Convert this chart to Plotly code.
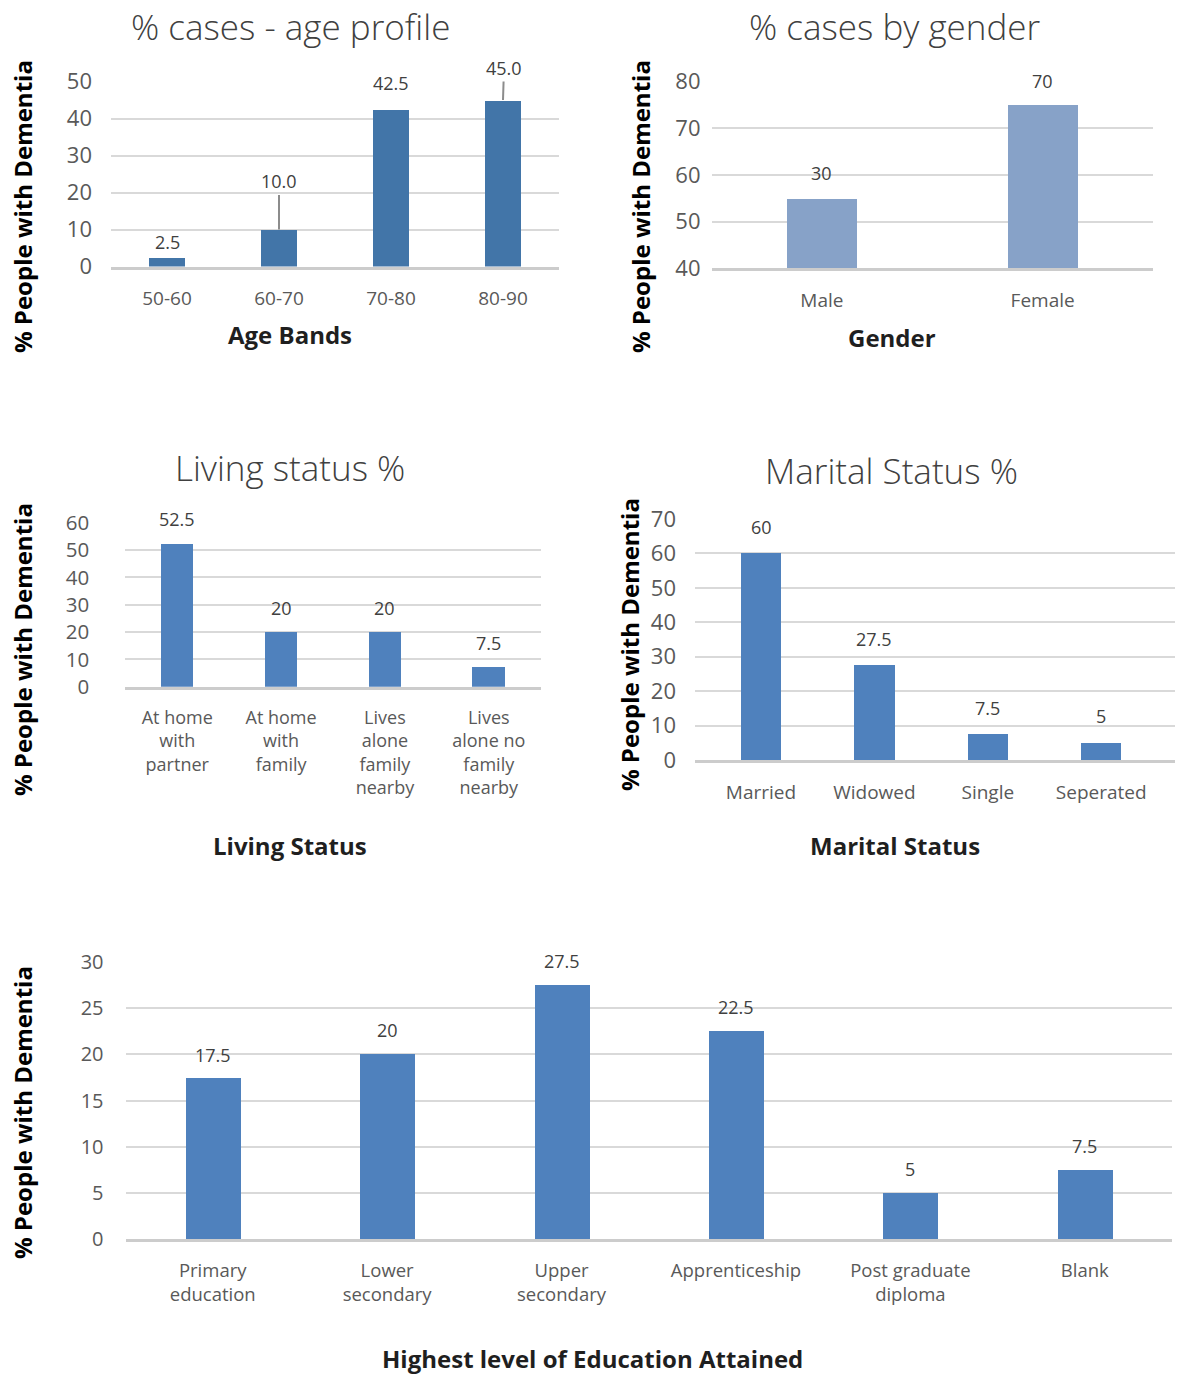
import plotly.graph_objects as go

# ---- data -------------------------------------------------------------
age_bands = ["50-60", "60-70", "70-80", "80-90"]
age_pct = [2.5, 10.0, 42.5, 45.0]

genders = ["Male", "Female"]
gender_pct = [30, 70]
gender_tickvals = [0, 20, 40, 60, 80]
gender_ticktext = ["40", "50", "60", "70", "80"]

living = ["At home<br>with<br>partner", "At home<br>with<br>family",
          "Lives<br>alone<br>family<br>nearby", "Lives<br>alone no<br>family<br>nearby"]
living_pct = [52.5, 20, 20, 7.5]

marital = ["Married", "Widowed", "Single", "Seperated"]
marital_pct = [60, 27.5, 7.5, 5]

education = ["Primary<br>education", "Lower<br>secondary", "Upper<br>secondary",
             "Apprenticeship", "Post graduate<br>diploma", "Blank"]
education_pct = [17.5, 20, 27.5, 22.5, 5, 7.5]

# ---- styling ------------------------------------------------------------
W, H = 1177, 1376
FONT = "'Open Sans', Lato, sans-serif"
TITLE_C = "#404040"
TICK_C = "#595959"
LABEL_C = "#404040"
AXTITLE_C = "#1f1f1f"
GRID_C = "#d9d9d9"
BASE_C = "#cccccc"


def px_x(v):
    return v / W


def px_y(v):
    return 1 - v / H


fig = go.Figure()

panels = [
    dict(cats=age_bands, vals=age_pct, x=(111, 559), y=(81.5, 266.5), yr=(0, 50), dt=10,
         color="#4275A8", width=0.32, ystand=18, yfont=22, xfont=19, fmt="{:.1f}"),
    dict(cats=genders, vals=gender_pct, x=(711.5, 1153), y=(81.7, 268.3), yr=(0, 80), dt=None,
         color="#87A2C8", width=0.317, ystand=10, yfont=22, xfont=19, fmt="{:g}"),
    dict(cats=living, vals=living_pct, x=(125.3, 540.7), y=(522.7, 686.7), yr=(0, 60), dt=10,
         color="#4F81BD", width=0.31, ystand=35, yfont=20.5, xfont=18, fmt="{:g}"),
    dict(cats=marital, vals=marital_pct, x=(695, 1175), y=(519, 760), yr=(0, 70), dt=10,
         color="#4F81BD", width=0.357, ystand=18, yfont=22, xfont=19, fmt="{:g}",
         xr=(-0.582, 3.651)),
    dict(cats=education, vals=education_pct, x=(125.5, 1172), y=(962, 1239.3), yr=(0, 30), dt=5,
         color="#4F81BD", width=0.315, ystand=21, yfont=20, xfont=18.5, fmt="{:g}"),
]

# label offsets (pixels above the bar top) per panel
label_shift = [
    [15, 48, 26, 32],
    [25, 24],
    [24, 24, 24, 23],
    [26, 26, 26, 27],
    [23, 24, 24, 24, 24, 24],
]
# age-profile labels that sit away from their bar get a leader line
leader = [False, True, False, True]

layout = dict(
    template="none",
    width=W, height=H, autosize=False, margin=dict(l=0, r=0, t=0, b=0, pad=0),
    paper_bgcolor="white", plot_bgcolor="white", showlegend=False,
    font=dict(family=FONT, color=TICK_C),
    bargap=0,
)

annotations = []

for i, p in enumerate(panels):
    n = i + 1
    xa = "x" if n == 1 else f"x{n}"
    ya = "y" if n == 1 else f"y{n}"
    xkey = "xaxis" if n == 1 else f"xaxis{n}"
    ykey = "yaxis" if n == 1 else f"yaxis{n}"

    fig.add_trace(go.Bar(
        x=p["cats"], y=p["vals"], xaxis=xa, yaxis=ya,
        marker=dict(color=p["color"], line=dict(width=0)),
        width=p["width"], hoverinfo="skip",
    ))

    ncat = len(p["cats"])
    xr = p.get("xr", (-0.5, ncat - 0.5))
    layout[xkey] = dict(
        domain=[px_x(p["x"][0]), px_x(p["x"][1])],
        anchor=ya, type="category", range=list(xr), automargin=False,
        showgrid=False, zeroline=False, showline=True,
        linecolor=BASE_C, linewidth=2.5, ticks="",
        tickfont=dict(size=p["xfont"], color=TICK_C, family=FONT),
        ticklabelstandoff=13, fixedrange=True,
    )
    yaxis = dict(
        domain=[px_y(p["y"][1]), px_y(p["y"][0])],
        anchor=xa, range=list(p["yr"]), automargin=False,
        showgrid=True, gridcolor=GRID_C, gridwidth=1.5,
        zeroline=False, showline=False, ticks="",
        tickfont=dict(size=p["yfont"], color=TICK_C, family=FONT),
        ticklabelstandoff=p["ystand"], fixedrange=True,
    )
    if p["dt"] is None:
        yaxis.update(tickmode="array", tickvals=gender_tickvals, ticktext=gender_ticktext)
    else:
        yaxis.update(tickmode="linear", tick0=0, dtick=p["dt"])
    layout[ykey] = yaxis

    # value labels
    for j, (c, v) in enumerate(zip(p["cats"], p["vals"])):
        shift = label_shift[i][j]
        ann = dict(
            x=c, y=v, xref=xa, yref=ya, text=p["fmt"].format(v),
            font=dict(size=18, color=LABEL_C, family=FONT),
            xanchor="center", yanchor="middle",
        )
        if i == 0 and leader[j]:
            ann.update(showarrow=True, arrowhead=0, arrowwidth=2, arrowcolor="#8c8c8c",
                       ax=1 if j == 3 else 0, ay=-shift, standoff=0)
        else:
            ann.update(showarrow=False, yshift=shift)
        annotations.append(ann)

# chart titles
titles = [
    ("% cases - age profile", 290, 27),
    ("% cases by gender", 895, 27),
    ("Living status %", 290, 468),
    ("Marital Status %", 891, 470),
]
for t, x, y in titles:
    annotations.append(dict(
        text=t, x=px_x(x), y=px_y(y), xref="paper", yref="paper",
        xanchor="center", yanchor="middle", showarrow=False,
        font=dict(size=35, color=TITLE_C, family=FONT, weight=300),
    ))

# x-axis titles
x_titles = [
    ("Age Bands", 290, 335),
    ("Gender", 892, 337),
    ("Living Status", 290, 845),
    ("Marital Status", 895, 845),
    ("Highest level of Education Attained", 592, 1358),
]
for t, x, y in x_titles:
    annotations.append(dict(
        text=f"<b>{t}</b>", x=px_x(x), y=px_y(y), xref="paper", yref="paper",
        xanchor="center", yanchor="middle", showarrow=False, borderpad=0,
        font=dict(size=24, color=AXTITLE_C, family=FONT),
    ))

# y-axis titles
y_titles = [(22, 207), (640, 207), (22, 650), (629, 645), (22, 1113)]
for x, y in y_titles:
    annotations.append(dict(
        text="<b>% People with Dementia</b>", x=px_x(x), y=px_y(y),
        xref="paper", yref="paper", xanchor="center", yanchor="middle",
        showarrow=False, textangle=-90,
        font=dict(size=24, color="#000000", family=FONT),
    ))

layout["annotations"] = annotations
fig.update_layout(**layout)

fig.write_html("out.html", config={"displayModeBar": False})
